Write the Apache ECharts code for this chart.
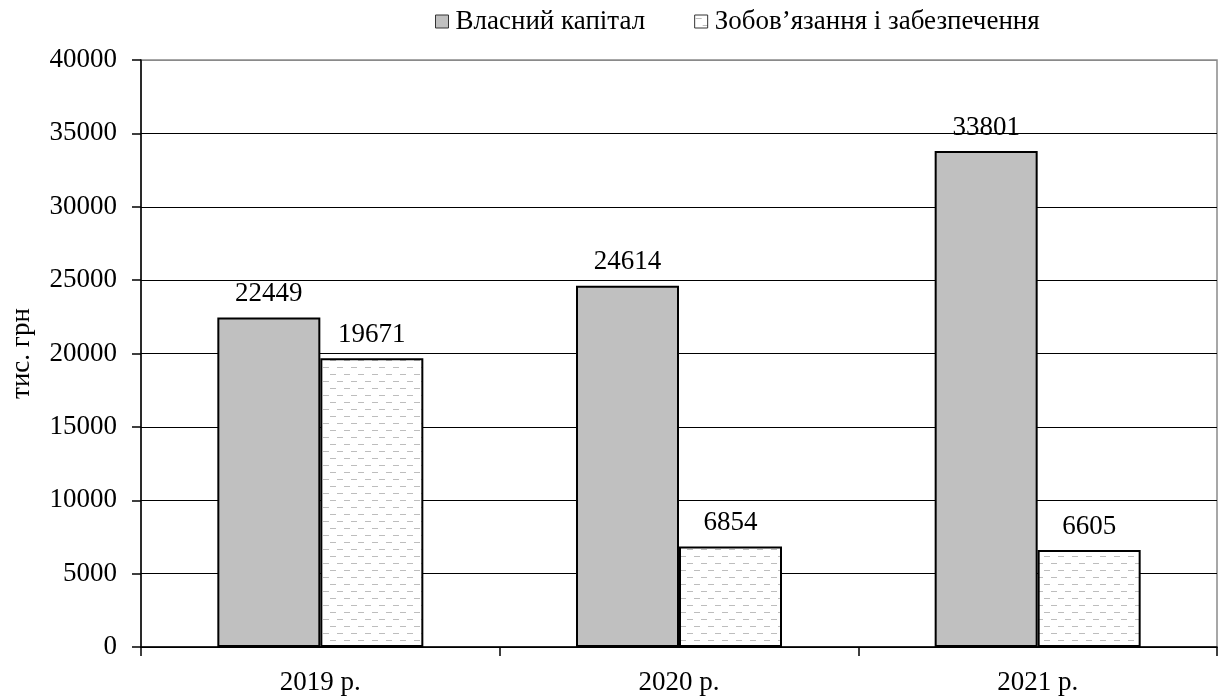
<!DOCTYPE html>
<html>
<head>
<meta charset="utf-8">
<script src="https://cdn.jsdelivr.net/npm/echarts@6/dist/echarts.min.js"></script>
<style>
html,body{margin:0;padding:0;background:#fff;}
#chart{width:1222px;height:698px;}
</style>
</head>
<body>
<div id="chart"></div>
<script>
const categories = ['2019 р.', '2020 р.', '2021 р.'];
const seriesNames = ['Власний капітал', 'Зобов’язання і забезпечення'];
const equity = [22449, 24614, 33801];
const liabilities = [19671, 6854, 6605];
const yTicks = [0, 5000, 10000, 15000, 20000, 25000, 30000, 35000, 40000];
const yAxisName = 'тис. грн';

const FONT = '"Liberation Serif", "Times New Roman", serif';

// dashed light-gray pattern for the second series
const pc = document.createElement('canvas');
pc.width = 14; pc.height = 14;
const pctx = pc.getContext('2d');
pctx.fillStyle = '#ffffff';
pctx.fillRect(0, 0, 14, 14);
pctx.fillStyle = '#bdbdbd';
pctx.fillRect(1, 3, 6, 1);
pctx.fillRect(8, 10, 6, 1);

const chart = echarts.init(document.getElementById('chart'), null, {renderer: 'canvas'});
const splitColors = yTicks.map((v, i) => i === yTicks.length - 1 ? '#8a8a8a' : '#000000');

chart.setOption({
  animation: false,
  backgroundColor: '#ffffff',
  textStyle: {fontFamily: FONT, color: '#000'},
  legend: {
    left: 430,
    top: 3,
    icon: 'rect',
    itemWidth: 13,
    itemHeight: 13,
    itemGap: 49,
    itemStyle: {borderColor: '#333', borderWidth: 1},
    textStyle: {fontFamily: FONT, fontSize: 27, color: '#000', padding: [0, 0, 0, 2]},
    data: seriesNames
  },
  grid: {
    left: 141, right: 5, top: 60, bottom: 51,
    show: true, borderColor: '#8a8a8a', borderWidth: 1.5, backgroundColor: 'transparent'
  },
  xAxis: {
    type: 'category',
    data: categories,
    axisLine: {lineStyle: {color: '#000', width: 1.5}},
    axisTick: {show: true, length: 9, interval: 0, lineStyle: {color: '#000', width: 1.5}},
    axisLabel: {fontFamily: FONT, fontSize: 27, color: '#000', margin: 22, interval: 0}
  },
  yAxis: {
    type: 'value',
    min: 0, max: 40000, interval: 5000,
    name: yAxisName,
    nameLocation: 'middle',
    nameRotate: 90,
    nameGap: 106,
    nameTextStyle: {fontFamily: FONT, fontSize: 27, color: '#000'},
    axisLine: {show: true, lineStyle: {color: '#000', width: 1.5}},
    axisTick: {show: true, length: 9, lineStyle: {color: '#000', width: 1.5}},
    axisLabel: {fontFamily: FONT, fontSize: 27, color: '#000', margin: 24, formatter: v => String(v)},
    splitLine: {show: true, lineStyle: {color: splitColors, width: 1}}
  },
  series: [
    {
      name: seriesNames[0],
      type: 'bar',
      data: equity,
      barWidth: 103,
      barGap: '0%',
      itemStyle: {color: '#c0c0c0', borderColor: '#000', borderWidth: 2},
      label: {show: true, position: 'top', distance: 10, fontFamily: FONT, fontSize: 27, color: '#000'}
    },
    {
      name: seriesNames[1],
      type: 'bar',
      data: liabilities,
      barWidth: 103,
      barGap: '0%',
      itemStyle: {color: {image: pc, repeat: 'repeat'}, borderColor: '#000', borderWidth: 2},
      label: {show: true, position: 'top', distance: 10, fontFamily: FONT, fontSize: 27, color: '#000'}
    }
  ]
});
</script>
</body>
</html>
